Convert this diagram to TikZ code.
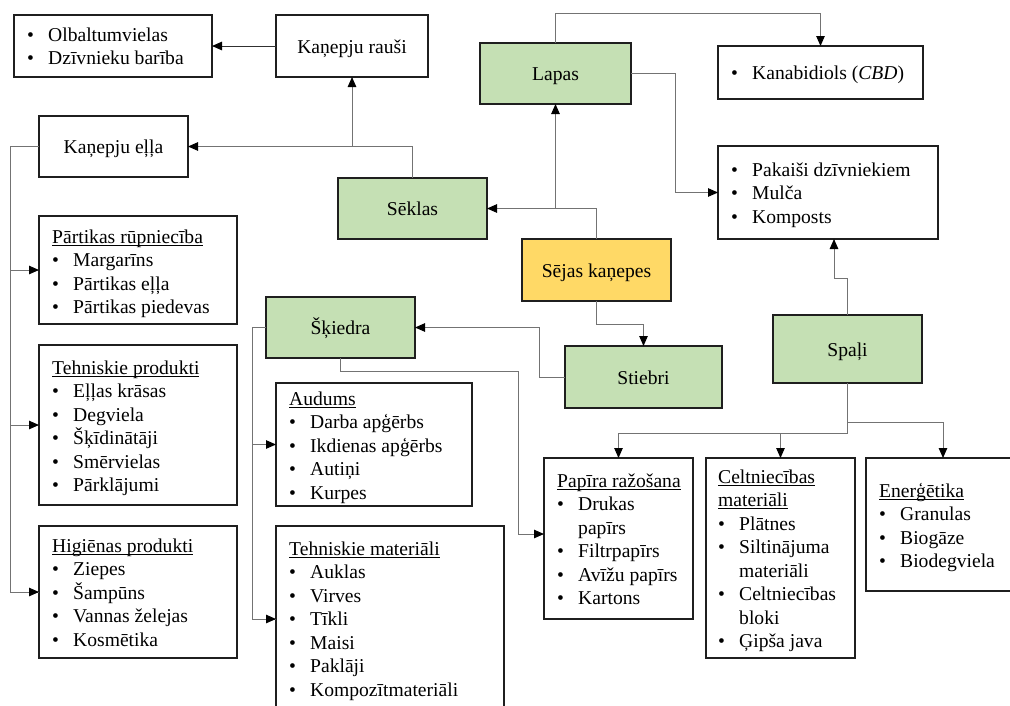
\documentclass[tikz,border=0pt]{standalone}
\usepackage{fontspec}
\setmainfont{Liberation Serif}
\usetikzlibrary{arrows.meta,calc}

\definecolor{leafgreen}{HTML}{C5E0B4}
\definecolor{seedgold}{HTML}{FFD966}
\definecolor{boxedge}{HTML}{1F1F1F}
\definecolor{wire}{HTML}{737373}
\definecolor{wiredark}{HTML}{303030}

% list helpers: bullet item, wrapped continuation line, underlined heading
\newcommand\itm[1]{\makebox[21pt][l]{\textbullet}#1}
\newcommand\cont[1]{\hspace*{21pt}#1}
\newsavebox\hdbox
\newcommand\hd[1]{\sbox\hdbox{#1}\rlap{\rule[-2.6pt]{\wd\hdbox}{0.9pt}}\usebox\hdbox}

% box given by its corners: name, x1, y1, x2, y2, style, text
\newcommand\panel[7]{%
  \node[#6, minimum width={#4pt-#2pt}, minimum height={#5pt-#3pt}]
    (#1) at ({(#2+#4)/2},{(#3+#5)/2}) {#7};}

\tikzset{
  boxline/.style={draw=boxedge, line width=1.3pt, inner sep=0pt, outer sep=0pt,
    font=\fontsize{19.6}{23.5}\selectfont, text height=14pt, text depth=0pt},
  plainbox/.style={boxline, fill=white},
  greenbox/.style={boxline, fill=leafgreen},
  goldbox/.style={boxline, fill=seedgold},
  listtext/.style={inner sep=0pt, anchor=base west,
    font=\fontsize{19.6}{23.5}\selectfont},
  conn/.style={draw=wire, line width=1pt,
    -{Triangle[length=10pt,width=8.5pt,color=black]}},
  wireonly/.style={draw=wire, line width=1pt},
}

\begin{document}
\begin{tikzpicture}[x=1pt,y=-1pt]
\useasboundingbox (0,0) rectangle (1010,705);

% ---- main plant parts ----
\panel{rausi}{276}{15}{428}{77}{plainbox}{Kaņepju rauši}
\panel{ella}{39}{116}{188}{177}{plainbox}{Kaņepju eļļa}
\panel{seklas}{338}{178}{487}{239}{greenbox}{Sēklas}
\panel{lapas}{480}{43}{631}{104}{greenbox}{Lapas}
\panel{sejas}{522}{239}{671}{301}{goldbox}{Sējas kaņepes}
\panel{stiebri}{565}{346}{722}{408}{greenbox}{Stiebri}
\panel{spali}{773}{315}{922}{383}{greenbox}{Spaļi}
\panel{skiedra}{266}{297}{415}{358}{greenbox}{Šķiedra}

% ---- product lists ----
\panel{olb}{14}{15}{212}{77}{plainbox}{}
\node[listtext] (olb-t) at (27,41) {\begin{tabular}[t]{@{}l@{}}
  \itm{Olbaltumvielas}\\ \itm{Dzīvnieku barība}\end{tabular}};

\panel{cbd}{718}{46}{923}{99}{plainbox}{}
\node[listtext] (cbd-t) at (731,79) {\begin{tabular}[t]{@{}l@{}}
  \itm{Kanabidiols (\textit{CBD})}\end{tabular}};

\panel{pak}{718}{146}{938}{239}{plainbox}{}
\node[listtext] (pak-t) at (731,176) {\begin{tabular}[t]{@{}l@{}}
  \itm{Pakaiši dzīvniekiem}\\ \itm{Mulča}\\ \itm{Komposts}\end{tabular}};

\panel{part}{39}{216}{237}{324}{plainbox}{}
\node[listtext] (part-t) at (52,243) {\begin{tabular}[t]{@{}l@{}}
  \hd{Pārtikas rūpniecība}\\ \itm{Margarīns}\\ \itm{Pārtikas eļļa}\\
  \itm{Pārtikas piedevas}\end{tabular}};

\panel{tehp}{39}{345}{237}{505}{plainbox}{}
\node[listtext] (tehp-t) at (52,374) {\begin{tabular}[t]{@{}l@{}}
  \hd{Tehniskie produkti}\\ \itm{Eļļas krāsas}\\ \itm{Degviela}\\
  \itm{Šķīdinātāji}\\ \itm{Smērvielas}\\ \itm{Pārklājumi}\end{tabular}};

\panel{hig}{39}{526}{237}{658}{plainbox}{}
\node[listtext] (hig-t) at (52,552) {\begin{tabular}[t]{@{}l@{}}
  \hd{Higiēnas produkti}\\ \itm{Ziepes}\\ \itm{Šampūns}\\
  \itm{Vannas želejas}\\ \itm{Kosmētika}\end{tabular}};

\panel{aud}{276}{383}{472}{506}{plainbox}{}
\node[listtext] (aud-t) at (289,405) {\begin{tabular}[t]{@{}l@{}}
  \hd{Audums}\\ \itm{Darba apģērbs}\\ \itm{Ikdienas apģērbs}\\
  \itm{Autiņi}\\ \itm{Kurpes}\end{tabular}};

\panel{tehm}{276}{526}{504}{712}{plainbox}{}
\node[listtext] (tehm-t) at (289,555) {\begin{tabular}[t]{@{}l@{}}
  \hd{Tehniskie materiāli}\\ \itm{Auklas}\\ \itm{Virves}\\ \itm{Tīkli}\\
  \itm{Maisi}\\ \itm{Paklāji}\\ \itm{Kompozītmateriāli}\end{tabular}};

\panel{pap}{544}{458}{693}{619}{plainbox}{}
\node[listtext] (pap-t) at (557,487) {\begin{tabular}[t]{@{}l@{}}
  \hd{Papīra ražošana}\\ \itm{Drukas}\\ \cont{papīrs}\\ \itm{Filtrpapīrs}\\
  \itm{Avīžu papīrs}\\ \itm{Kartons}\end{tabular}};

\panel{celt}{706}{458}{855}{658}{plainbox}{}
\node[listtext] (celt-t) at (718,483) {\begin{tabular}[t]{@{}l@{}}
  \hd{Celtniecības}\\ \hd{materiāli}\\ \itm{Plātnes}\\ \itm{Siltinājuma}\\
  \cont{materiāli}\\ \itm{Celtniecības}\\ \cont{bloki}\\ \itm{Ģipša java}\end{tabular}};

\panel{ener}{866}{458}{1020}{591}{plainbox}{}
\node[listtext] (ener-t) at (879,497) {\begin{tabular}[t]{@{}l@{}}
  \hd{Enerģētika}\\ \itm{Granulas}\\ \itm{Biogāze}\\ \itm{Biodegviela}\end{tabular}};

% ---- connectors ----
\draw[conn, draw=wiredark] (rausi.west) -- (olb.east);
\draw[conn] (seklas.north) |- (ella.east);
\draw[conn] (rausi.south |- ella.east) -- (rausi.south);

\draw[wireonly] (ella.west) -- ++(-29,0) coordinate (oiltrunk) |- (hig.west);
\draw[conn] (oiltrunk |- part.west) -- (part.west);
\draw[conn] (oiltrunk |- tehp.west) -- (tehp.west);
\draw[conn] (oiltrunk |- hig.west) -- (hig.west);

\draw[conn] (sejas.north) |- (seklas.east);
\draw[conn] (lapas.south |- seklas.east) -- (lapas.south);

\draw[conn] (lapas.north) -- ++(0,-30) -| (cbd.north);
\draw[conn] (lapas.east) -- ++(44,0) |- (pak.west);

\draw[conn] (sejas.south) -- ++(0,23) -| (stiebri.north);
\draw[conn] (stiebri.west) -- ++(-26,0) |- (skiedra.east);

\draw[conn] (spali.north) -- ++(0,-37) -| ($(pak.south)+(6,0)$);
\draw[conn] (spali.south) -- ++(0,39) -| (ener.north);
\draw[conn] (spali.south) -- ++(0,50) -| (pap.north);
\draw[conn] (celt.north |- 0,433) -- (celt.north);

\draw[wireonly] (skiedra.west) -- ++(-14,0) coordinate (fibretrunk) |- (tehm.west);
\draw[conn] (fibretrunk |- aud.west) -- (aud.west);
\draw[conn] (fibretrunk |- tehm.west) -- (tehm.west);

\draw[conn] (skiedra.south) -- ++(0,13) -| ($(pap.west)+(-26,-4.5)$)
  -- ($(pap.west)+(0,-4.5)$);
\end{tikzpicture}
\end{document}
